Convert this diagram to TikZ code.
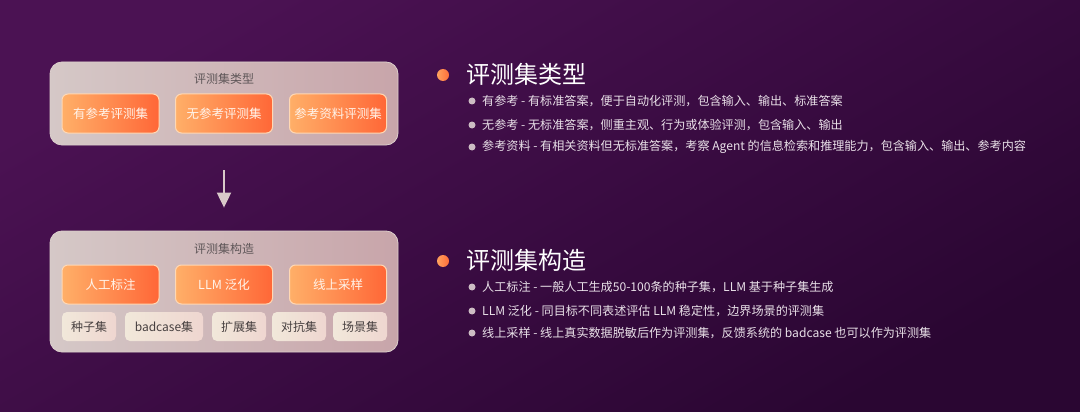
\documentclass[tikz,border=0pt]{standalone}
\usepackage{fontspec}
\setmainfont{Noto Sans CJK SC}
\usepackage{tikz}
\usetikzlibrary{arrows.meta,positioning}
\definecolor{bgtop}{HTML}{4B1253}
\definecolor{bgbot}{HTML}{2A0632}
\definecolor{panelL}{HTML}{D5C8C7}
\definecolor{panelR}{HTML}{C8A5AA}
\definecolor{panelline}{HTML}{DCCFCC}
\definecolor{btnL}{HTML}{FFAF68}
\definecolor{btnR}{HTML}{FF6737}
\definecolor{btnline}{HTML}{FFD8B4}
\definecolor{btntext}{HTML}{FFF4EA}
\definecolor{chipL}{HTML}{F1E8DA}
\definecolor{chipR}{HTML}{EFD6D0}
\definecolor{chiptext}{HTML}{474040}
\definecolor{paneltext}{HTML}{5E5658}
\definecolor{dotL}{HTML}{FFA25E}
\definecolor{dotR}{HTML}{FF6E3A}
\definecolor{smalldot}{HTML}{CDBDC4}
\definecolor{itemtext}{HTML}{E9E0E8}
\definecolor{arrowcol}{HTML}{D9C9C9}

\begin{document}
\begin{tikzpicture}[x=1pt,y=-1pt,
  panel/.style={draw=panelline, line width=0.8pt, rounded corners=12pt, left color=panelL, right color=panelR, minimum width=348pt, inner sep=0pt},
  paneltitle/.style={text=paneltext, font=\fontsize{12}{14}\selectfont},
  btn/.style={draw=btnline, line width=1pt, rounded corners=6pt, left color=btnL, right color=btnR, minimum width=97pt, minimum height=39pt, inner sep=0pt, text=btntext, font=\fontsize{12.5}{14}\selectfont},
  chip/.style={rounded corners=5pt, left color=chipL, right color=chipR, minimum height=29pt, inner sep=0pt, text=chiptext, font=\fontsize{12}{14}\selectfont},
  bigdot/.style={circle, inner sep=0pt, minimum size=12pt, left color=dotL, right color=dotR},
  smalldot/.style={circle, inner sep=0pt, minimum size=7pt, fill=smalldot},
  heading/.style={anchor=west, inner sep=0pt, text=white, font=\fontsize{24}{28}\selectfont},
  item/.style={anchor=west, inner sep=0pt, text=itemtext, font=\fontsize{12.1}{15}\selectfont},
  arrowline/.style={draw=arrowcol, line width=2pt, -{Triangle[width=14pt,length=15pt]}}]
\useasboundingbox (0,0) rectangle (1080,412);
% background
\shade[top color=bgtop, bottom color=bgbot, shading angle=30] (0,0) rectangle (1080,412);
%
% left: types of evaluation set
\node[panel, minimum height=83pt] (typepanel) at (224,103.5) {};
\node[paneltitle] (typetitle) at (224,79) {评测集类型};
\node[btn] (withref) at (110.5,113.5) {有参考评测集};
\node[btn] (noref) at (224,113.5) {无参考评测集};
\node[btn] (refdoc) at (338,113.5) {参考资料评测集};
%
% left: construction of evaluation set
\node[panel, minimum height=121pt] (buildpanel) at (224,291.5) {};
\node[paneltitle] (buildtitle) at (224,249) {评测集构造};
\node[btn] (manual) at (110.5,284.5) {人工标注};
\node[btn] (llmgen) at (224,284.5) {LLM 泛化};
\node[btn] (online) at (338,284.5) {线上采样};
\node[chip, minimum width=54pt] (seed) at (89,326.5) {种子集};
\node[chip, minimum width=78pt] (badcase) at (164,326.5) {badcase集};
\node[chip, minimum width=54pt] (expand) at (239,326.5) {扩展集};
\node[chip, minimum width=54pt] (adv) at (299,326.5) {对抗集};
\node[chip, minimum width=54pt] (scene) at (360,326.5) {场景集};
%
\draw[arrowline, shorten <=25pt, shorten >=23pt] (typepanel) -- (buildpanel);
%
% right: text
\node[bigdot] (dota) at (443,75) {};
\node[heading] (heada) at (466,74) {评测集类型};
\node[smalldot] (dota1) at (472,101) {};
\node[item] (itema1) at (482,101) {有参考 - 有标准答案，便于自动化评测，包含输入、输出、标准答案};
\node[smalldot] (dota2) at (472,125) {};
\node[item] (itema2) at (482,125) {无参考 - 无标准答案，侧重主观、行为或体验评测，包含输入、输出};
\node[smalldot] (dota3) at (472,147) {};
\node[item] (itema3) at (482,147) {参考资料 - 有相关资料但无标准答案，考察 Agent 的信息检索和推理能力，包含输入、输出、参考内容};
%
\node[bigdot] (dotb) at (443,261) {};
\node[heading] (headb) at (466,260) {评测集构造};
\node[smalldot] (dotb1) at (472,287) {};
\node[item] (itemb1) at (482,287) {人工标注 - 一般人工生成50-100条的种子集，LLM 基于种子集生成};
\node[smalldot] (dotb2) at (472,311) {};
\node[item] (itemb2) at (482,311) {LLM 泛化 - 同目标不同表述评估 LLM 稳定性，边界场景的评测集};
\node[smalldot] (dotb3) at (472,333) {};
\node[item] (itemb3) at (482,333) {线上采样 - 线上真实数据脱敏后作为评测集，反馈系统的 badcase 也可以作为评测集};
\end{tikzpicture}
\end{document}
